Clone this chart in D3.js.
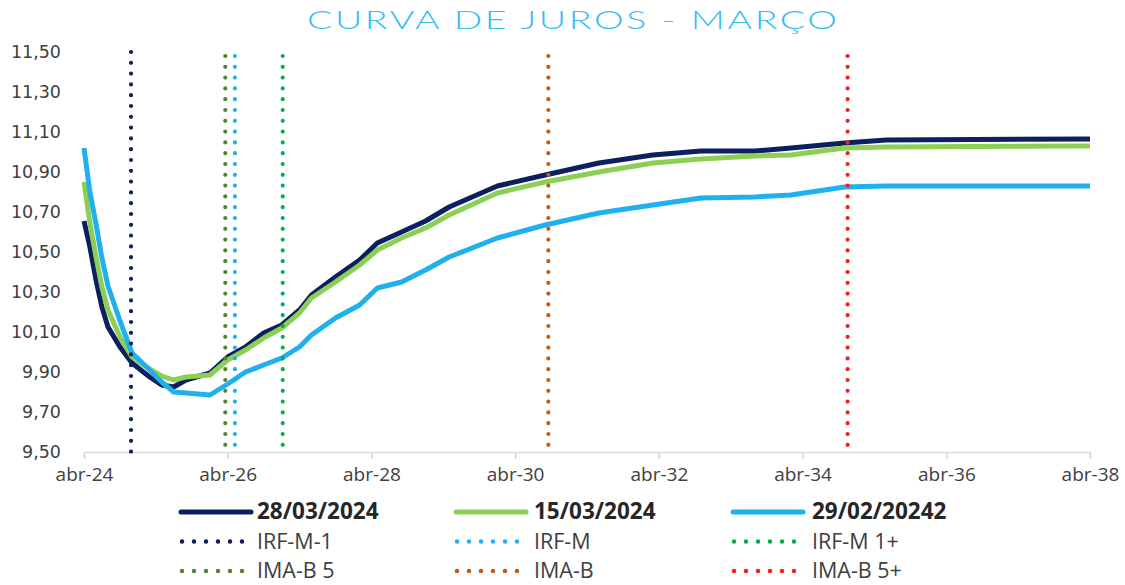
<!DOCTYPE html>
<html>
<head>
<meta charset="utf-8">
<script src="https://cdn.jsdelivr.net/npm/d3@7"></script>
<style>
  html, body { margin: 0; padding: 0; background: #ffffff; }
  svg { display: block; }
</style>
</head>
<body>
<svg id="chart" width="1125" height="585"></svg>
<script>
// Yield curve points: maturity (month) and rate (%) for each reference date
const maturities = [
  "2024-04-01", "2024-05-01", "2024-06-01", "2024-07-01", "2024-08-01", "2024-10-01",
  "2024-12-01", "2025-03-01", "2025-05-01", "2025-07-01", "2025-09-01", "2026-01-01",
  "2026-04-01", "2026-07-01", "2026-10-01", "2027-01-01", "2027-04-01", "2027-06-01",
  "2027-10-01", "2028-02-01", "2028-05-01", "2028-09-01", "2029-01-01", "2029-05-01",
  "2030-01-01", "2030-09-01", "2031-06-01", "2032-03-01", "2032-11-01", "2033-08-01",
  "2034-02-01", "2034-11-01", "2035-06-01", "2038-04-01"
];
const curve28Mar = [
  10.655, 10.525, 10.36, 10.225, 10.125, 10.025,
  9.945, 9.875, 9.835, 9.825, 9.86, 9.895,
  9.975, 10.025, 10.095, 10.135, 10.21, 10.285,
  10.375, 10.46, 10.545, 10.60, 10.655, 10.725,
  10.83, 10.885, 10.945, 10.985, 11.005, 11.005,
  11.02, 11.045, 11.06, 11.065
];
const curve15Mar = [
  10.85, 10.645, 10.475, 10.325, 10.21, 10.075,
  9.975, 9.915, 9.88, 9.86, 9.875, 9.885,
  9.96, 10.01, 10.07, 10.12, 10.195, 10.27,
  10.35, 10.435, 10.51, 10.57, 10.62, 10.685,
  10.795, 10.85, 10.90, 10.945, 10.965, 10.98,
  10.985, 11.02, 11.025, 11.03
];
const curve29Feb = [
  11.02, 10.80, 10.64, 10.47, 10.33, 10.155,
  9.995, 9.91, 9.85, 9.80, 9.795, 9.785,
  9.84, 9.90, 9.935, 9.97, 10.025, 10.085,
  10.17, 10.235, 10.32, 10.35, 10.41, 10.475,
  10.57, 10.635, 10.695, 10.735, 10.77, 10.775,
  10.785, 10.825, 10.83, 10.83
];
const seriesNames = ["28/03/2024", "15/03/2024", "29/02/20242"];
const seriesColors = ["#0c1f5e", "#8ccf55", "#1fb0ee"];

// Index durations marked as vertical dotted lines
const indexNames = ["IRF-M-1", "IRF-M", "IRF-M 1+", "IMA-B 5", "IMA-B", "IMA-B 5+"];
const indexDates = ["2024-11-26", "2026-05-08", "2027-01-06", "2026-03-20", "2030-09-17", "2034-11-16"];
const indexColors = ["#0c1f5e", "#1fb0ee", "#00b050", "#548235", "#c55a11", "#ff1a1a"];

const xTickDates = ["2024-04-01", "2026-04-01", "2028-04-01", "2030-04-01",
                    "2032-04-01", "2034-04-01", "2036-04-01", "2038-04-01"];
const xTickLabels = ["abr-24", "abr-26", "abr-28", "abr-30", "abr-32", "abr-34", "abr-36", "abr-38"];
const yTicks = [9.5, 9.7, 9.9, 10.1, 10.3, 10.5, 10.7, 10.9, 11.1, 11.3, 11.5];

const title = "CURVA DE JUROS - MARÇO";

const parse = d3.utcParse("%Y-%m-%d");
const svg = d3.select("#chart");

const x = d3.scaleUtc()
  .domain([parse("2024-04-01"), parse("2038-04-01")])
  .range([84, 1090]);
const y = d3.scaleLinear().domain([9.5, 11.5]).range([452, 52]);

// Title: wide, light lettering
const titleStretch = 1.5;
svg.append("g")
  .attr("transform", `translate(572,29) scale(${titleStretch},1)`)
  .append("text")
  .attr("x", 0).attr("y", 0)
  .attr("text-anchor", "middle")
  .attr("font-family", "Lato, 'Open Sans', sans-serif")
  .attr("font-weight", 300)
  .attr("font-size", 25)
  .attr("fill", "#35bdf3")
  .attr("textLength", 530 / titleStretch)
  .attr("lengthAdjust", "spacing")
  .text(title);

// Y axis labels (no axis line)
const yAxis = d3.axisLeft(y)
  .tickValues(yTicks)
  .tickSize(0)
  .tickPadding(0)
  .tickFormat(d => d3.format(".2f")(d).replace(".", ","));
const gy = svg.append("g").attr("transform", "translate(61,0)").call(yAxis);
gy.select(".domain").remove();
gy.selectAll("text")
  .attr("font-family", "'DejaVu Sans', sans-serif")
  .attr("font-size", 17.5)
  .attr("fill", "#404040");

// X axis
const xAxis = d3.axisBottom(x)
  .tickValues(xTickDates.map(parse))
  .tickSize(7)
  .tickPadding(9)
  .tickFormat((d, i) => xTickLabels[i]);
const gx = svg.append("g").attr("transform", "translate(0,452)").call(xAxis);
gx.select(".domain").attr("stroke", "#d9d9d9").attr("stroke-width", 1.5);
gx.selectAll(".tick line").attr("stroke", "#d9d9d9").attr("stroke-width", 1.5);
gx.selectAll("text")
  .attr("font-family", "'Open Sans', sans-serif")
  .attr("font-size", 19)
  .attr("fill", "#404040");

// Curves
const curves = [curve28Mar, curve15Mar, curve29Feb];
const line = d3.line()
  .x(d => x(d[0]))
  .y(d => y(d[1]));
curves.forEach((vals, i) => {
  const pts = maturities.map((m, j) => [parse(m), vals[j]]);
  svg.append("path")
    .datum(pts)
    .attr("fill", "none")
    .attr("stroke", seriesColors[i])
    .attr("stroke-width", 5)
    .attr("stroke-linejoin", "round")
    .attr("d", line);
});

// Index duration markers
indexDates.forEach((d, i) => {
  const xv = x(parse(d));
  svg.append("line")
    .attr("x1", xv).attr("x2", xv)
    .attr("y1", y(11.5) + (i === 0 ? 0 : 4)).attr("y2", y(9.5))
    .attr("stroke", indexColors[i])
    .attr("stroke-width", 4.2)
    .attr("stroke-linecap", "round")
    .attr("stroke-dasharray", "0 10.8");
});

// Legend
const colX = [181, 456, 733];
const textX = [257, 534, 812];
const rowY = [512, 541.5, 571];
const legend = svg.append("g");
seriesNames.forEach((name, i) => {
  legend.append("line")
    .attr("x1", colX[i]).attr("x2", colX[i] + 70)
    .attr("y1", rowY[0]).attr("y2", rowY[0])
    .attr("stroke", seriesColors[i])
    .attr("stroke-width", 5)
    .attr("stroke-linecap", "round");
  legend.append("text")
    .attr("x", textX[i]).attr("y", rowY[0] + 7)
    .attr("font-family", "'Open Sans', sans-serif")
    .attr("font-weight", 700)
    .attr("font-size", 22.5)
    .attr("fill", "#262626")
    .text(name);
});
indexNames.forEach((name, i) => {
  const col = i % 3;
  const row = 1 + Math.floor(i / 3);
  legend.append("line")
    .attr("x1", colX[col] + 1).attr("x2", colX[col] + 62)
    .attr("y1", rowY[row]).attr("y2", rowY[row])
    .attr("stroke", indexColors[i])
    .attr("stroke-width", 4.5)
    .attr("stroke-linecap", "round")
    .attr("stroke-dasharray", "0 12");
  legend.append("text")
    .attr("x", textX[col]).attr("y", rowY[row] + 7)
    .attr("font-family", "'Open Sans', sans-serif")
    .attr("font-size", 21.5)
    .attr("fill", "#404040")
    .text(name);
});
</script>
</body>
</html>
